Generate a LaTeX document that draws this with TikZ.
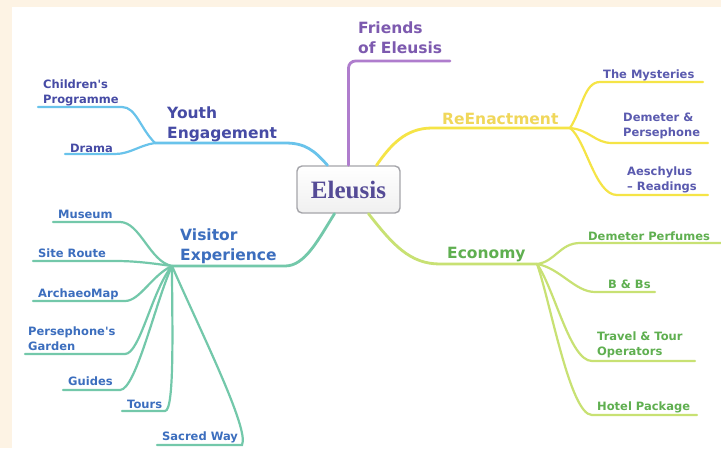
\documentclass[tikz,border=0pt]{standalone}
\usepackage{fontspec}
\newfontfamily\lblfont{DejaVu Sans}
\newfontfamily\titlefont{Liberation Serif}
\definecolor{cream}{RGB}{253,243,228}
\definecolor{frline}{RGB}{175,125,205}
\definecolor{frtext}{RGB}{125,90,175}
\definecolor{yline}{RGB}{245,228,70}
\definecolor{ytext}{RGB}{240,215,90}
\definecolor{ysub}{RGB}{90,90,175}
\definecolor{bline}{RGB}{105,195,235}
\definecolor{btext}{RGB}{70,75,165}
\definecolor{tline}{RGB}{115,200,170}
\definecolor{ttext}{RGB}{60,110,190}
\definecolor{gline}{RGB}{200,225,115}
\definecolor{gtext}{RGB}{95,175,80}
\definecolor{etext}{RGB}{85,75,150}
\definecolor{eborder}{RGB}{165,165,170}
\tikzset{
  mainlbl/.style={anchor=base west,inner sep=0pt,align=left,
    font=\lblfont\bfseries\fontsize{15.5}{20}\selectfont},
  sublbl/.style={anchor=base west,inner sep=0pt,align=left,
    font=\lblfont\bfseries\fontsize{11.5}{15}\selectfont},
  mainline/.style={line width=2.8pt,line cap=round},
  subline/.style={line width=2.2pt,line cap=round},
}
\begin{document}
\begin{tikzpicture}[x=1pt,y=-1pt]
\fill[cream] (0,0) rectangle (721,448);
\fill[white] (12,7) rectangle (721,448);
\useasboundingbox (0,0) rectangle (721,448);

% centre
\node[draw=eborder,line width=1.4pt,rounded corners=5pt,top color=white,bottom color=gray!12,
  minimum width=103pt,minimum height=47pt,inner sep=0pt,
  font=\titlefont\bfseries\fontsize{25}{28}\selectfont,text=etext] (E) at (348.5,189.5) {Eleusis};

% coordinates
\coordinate (fu) at (450,61);
\coordinate (ra) at ([xshift=28pt]E.north);
\coordinate (rb) at (570,128);
\coordinate (ya) at ([xshift=-21pt]E.north);
\coordinate (yb) at (155,143);
\coordinate (va) at ([xshift=-14pt]E.south);
\coordinate (vb) at (172,266);
\coordinate (ea) at ([xshift=20pt]E.south);
\coordinate (eb) at (537,264);

% Friends
\draw[mainline,frline,rounded corners=7pt] (E.north) |- (fu);
\node[mainlbl,text=frtext] (friends) at (358,53) {Friends\\of Eleusis};

% ReEnactment
\draw[mainline,yline] (ra) .. controls (390,146) and (405,128) .. (432,128) -- (rb);
\node[mainlbl,text=ytext] (reen) at (442,124) {ReEnactment};
\coordinate (r1) at (703,82);
\coordinate (r2) at (708,143);
\coordinate (r3) at (708,195);
\draw[subline,yline] (rb) .. controls (582,110) and (584,82) .. (600,82) -- (r1);
\draw[subline,yline] (rb) .. controls (590,130) and (595,143) .. (612,143) -- (r2);
\draw[subline,yline] (rb) .. controls (586,140) and (595,195) .. (617,195) -- (r3);
\node[sublbl,text=ysub] (myst) at (603,78) {The Mysteries};
\node[sublbl,text=ysub] (demper) at (623,136) {Demeter \&\\Persephone};
\node[sublbl,text=ysub] (aesch) at (627,190) {Aeschylus\\– Readings};

% Youth Engagement
\draw[mainline,bline] (ya) .. controls (314,150) and (305,143) .. (285,143) -- (yb);
\node[mainlbl,text=btext] (youth) at (167,138) {Youth\\Engagement};
\coordinate (y1) at (38,107);
\coordinate (y2) at (65,154);
\draw[subline,bline] (yb) .. controls (140,128) and (136,107) .. (122,107) -- (y1);
\draw[subline,bline] (yb) .. controls (140,145) and (130,154) .. (115,154) -- (y2);
\node[sublbl,text=btext] (child) at (43,103) {Children's\\Programme};
\node[sublbl,text=btext] (drama) at (70,152) {Drama};

% Visitor Experience
\draw[mainline,tline] (va) .. controls (318,240) and (305,266) .. (285,266) -- (vb);
\node[mainlbl,text=ttext] (visitor) at (180,260) {Visitor\\Experience};
\coordinate (v1) at (53,222);
\coordinate (v2) at (33,261);
\coordinate (v3) at (33,301);
\coordinate (v4) at (25,354);
\coordinate (v5) at (63,390);
\coordinate (v6) at (122,411);
\coordinate (v7) at (157,445);
\draw[subline,tline] (vb) .. controls (150,262) and (140,222) .. (120,222) -- (v1);
\draw[subline,tline] (vb) .. controls (150,263) and (135,261) .. (115,261) -- (v2);
\draw[subline,tline] (vb) .. controls (152,275) and (140,301) .. (125,301) -- (v3);
\draw[subline,tline] (vb) .. controls (152,290) and (140,354) .. (125,354) -- (v4);
\draw[subline,tline] (vb) .. controls (156,300) and (136,390) .. (120,390) -- (v5);
\draw[subline,tline] (vb) .. controls (172,320) and (175,411) .. (165,411) -- (v6);
\draw[subline,tline] (vb) .. controls (200,330) and (250,430) .. (242,445) -- (v7);
\node[sublbl,text=ttext] (museum) at (58,218) {Museum};
\node[sublbl,text=ttext] (site) at (38,257) {Site Route};
\node[sublbl,text=ttext] (archaeo) at (38,297) {ArchaeoMap};
\node[sublbl,text=ttext] (garden) at (28,350) {Persephone's\\Garden};
\node[sublbl,text=ttext] (guides) at (68,385) {Guides};
\node[sublbl,text=ttext] (tours) at (127,408) {Tours};
\node[sublbl,text=ttext] (sacred) at (162,440) {Sacred Way};

% Economy
\draw[mainline,gline] (ea) .. controls (393,245) and (410,264) .. (440,264) -- (eb);
\node[mainlbl,text=gtext] (economy) at (447,258) {Economy};
\coordinate (e1) at (721,243);
\coordinate (e2) at (655,292);
\coordinate (e3) at (695,361);
\coordinate (e4) at (697,415);
\draw[subline,gline] (eb) .. controls (555,262) and (560,243) .. (580,243) -- (e1);
\draw[subline,gline] (eb) .. controls (560,268) and (575,292) .. (595,292) -- (e2);
\draw[subline,gline] (eb) .. controls (555,290) and (570,361) .. (592,361) -- (e3);
\draw[subline,gline] (eb) .. controls (550,300) and (570,415) .. (592,415) -- (e4);
\node[sublbl,text=gtext] (perf) at (588,240) {Demeter Perfumes};
\node[sublbl,text=gtext] (bnb) at (608,288) {B \& Bs};
\node[sublbl,text=gtext] (travel) at (597,355) {Travel \& Tour\\Operators};
\node[sublbl,text=gtext] (hotel) at (597,410) {Hotel Package};
\end{tikzpicture}
\end{document}
